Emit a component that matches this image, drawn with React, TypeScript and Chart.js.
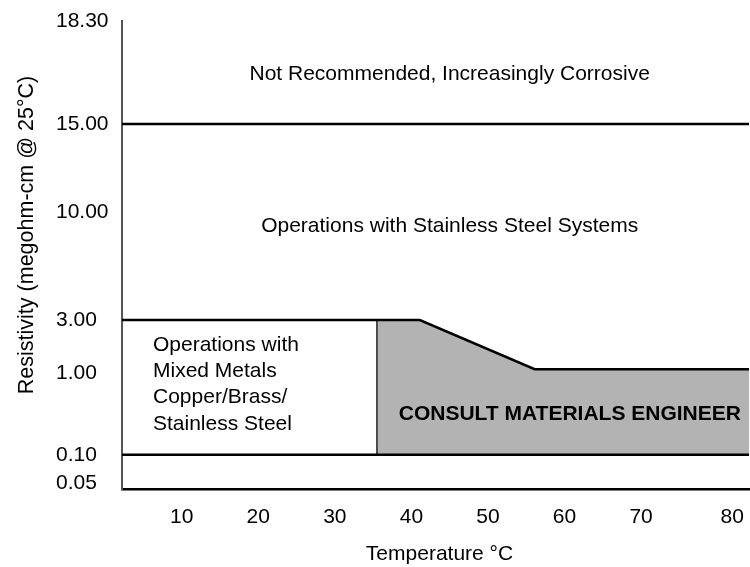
import React, { useEffect, useRef } from 'react';
import { Chart, registerables } from 'chart.js';

Chart.register(...registerables);

const FONT = "'Liberation Sans', Arial, Helvetica, sans-serif";

// ---- Axis ticks (schematic, non-uniform resistivity axis) ----
const yTickLabels = ['0.05', '0.10', '1.00', '3.00', '10.00', '15.00', '18.30'];
const yTickLevels = [1.3, 7.3, 24.8, 36.1, 59.2, 78.0, 100];
const xTickLabels = ['10', '20', '30', '40', '50', '60', '70', '80'];
const xTickTemps = [10, 20, 30, 40, 50, 60, 70, 81.9];

const tempRange = [2.2, 84.1];
const levelRange = [0, 100];

// ---- Region boundaries (levels on the schematic axis) ----
const corrosiveBoundary = 78.0; // 15.00
const stainlessBoundary = 36.1; // 3.00
const minimumBoundary = 7.3; // 0.10

// ---- Consult Materials Engineer zone outline ----
const consultTemps = [35.5, 41.1, 56.1, 84.1];
const consultLevels = [36.1, 36.1, 25.6, 25.6];

// ---- Text ----
const topNote = 'Not Recommended, Increasingly Corrosive';
const stainlessNote = 'Operations with Stainless Steel Systems';
const mixedMetalsNote = ['Operations with', 'Mixed Metals', 'Copper/Brass/', 'Stainless Steel'];
const consultNote = 'CONSULT MATERIALS ENGINEER';
const xTitle = 'Temperature °C';
const yTitle = 'Resistivity (megohm-cm @ 25°C)';

const textPlugin = {
  id: 'regionText',
  afterDatasetsDraw(chart: any) {
    const { ctx, scales, chartArea } = chart;
    const x = scales.x;
    const y = scales.y;
    ctx.save();
    ctx.fillStyle = '#000';
    ctx.textBaseline = 'middle';
    ctx.font = `21px ${FONT}`;
    ctx.textAlign = 'center';
    ctx.fillText(topNote, x.getPixelForValue(45.0), y.getPixelForValue(88.6));
    ctx.fillText(stainlessNote, x.getPixelForValue(45.0), y.getPixelForValue(56.2));

    ctx.textAlign = 'left';
    const lx = x.getPixelForValue(6.25);
    const ly = y.getPixelForValue(30.8);
    mixedMetalsNote.forEach((line, i) => ctx.fillText(line, lx, ly + i * 26.3));

    ctx.textAlign = 'center';
    ctx.font = `bold 21px ${FONT}`;
    ctx.fillText(consultNote, x.getPixelForValue(60.7), y.getPixelForValue(16.0));

    ctx.font = `21px ${FONT}`;
    ctx.fillText(xTitle, (chartArea.left + chartArea.right) / 2 + 4, 554);

    ctx.font = `21.5px ${FONT}`;
    ctx.translate(27, 235);
    ctx.rotate(-Math.PI / 2);
    ctx.fillText(yTitle, 0, 0);
    ctx.restore();
  },
};

function line(points: { x: number; y: number }[], width = 2.5, color = '#000', order = 0) {
  return {
    data: points,
    showLine: true,
    pointRadius: 0,
    borderColor: color,
    borderWidth: width,
    borderCapStyle: 'butt',
    fill: false,
    order,
  };
}

export default function App() {
  const canvasRef = useRef<HTMLCanvasElement>(null);

  useEffect(() => {
    if (!canvasRef.current) return;
    const [tMin, tMax] = tempRange;
    const consultPoints = consultTemps.map((t, i) => ({ x: t, y: consultLevels[i] }));

    const chart = new Chart(canvasRef.current, {
      type: 'scatter',
      data: {
        datasets: [
          line([{ x: tMin, y: corrosiveBoundary }, { x: tMax, y: corrosiveBoundary }]) as any,
          line([{ x: tMin, y: stainlessBoundary }, ...consultPoints]) as any,
          line([{ x: tMin, y: minimumBoundary }, { x: tMax, y: minimumBoundary }]) as any,
          line([{ x: consultTemps[0], y: minimumBoundary }, { x: consultTemps[0], y: consultLevels[0] }], 1.5, '#222', 1) as any,
          {
            data: consultPoints,
            showLine: true,
            pointRadius: 0,
            borderWidth: 0,
            borderColor: 'rgba(0,0,0,0)',
            backgroundColor: '#b3b3b3',
            fill: { value: minimumBoundary },
            order: 10,
          } as any,
        ],
      },
      options: {
        animation: false,
        responsive: false,
        layout: { padding: { left: 56, top: 21, right: 1, bottom: 0 } },
        plugins: {
          legend: { display: false },
          tooltip: { enabled: false },
        },
        scales: {
          x: {
            type: 'linear',
            min: tMin,
            max: tMax,
            afterFit: (s: any) => {
              s.height = 78;
              s.paddingLeft = 0;
              s.paddingRight = 0;
            },
            afterBuildTicks: (s: any) => {
              s.ticks = xTickTemps.map((v) => ({ value: v }));
            },
            grid: { display: false, drawTicks: false },
            border: { display: true, color: '#000', width: 2.5 },
            ticks: {
              autoSkip: false,
              maxRotation: 0,
              padding: 16,
              color: '#000',
              font: { family: FONT, size: 21 },
              callback: (_v: any, i: number) => xTickLabels[i],
            },
          },
          y: {
            type: 'linear',
            min: levelRange[0],
            max: levelRange[1],
            afterFit: (s: any) => {
              s.width = 66;
              s.paddingTop = 0;
              s.paddingBottom = 0;
            },
            afterBuildTicks: (s: any) => {
              s.ticks = yTickLevels.map((v) => ({ value: v }));
            },
            grid: { display: false, drawTicks: false },
            border: { display: true, color: '#555', width: 2 },
            ticks: {
              autoSkip: false,
              crossAlign: 'far',
              color: '#000',
              font: { family: FONT, size: 21 },
              callback: (_v: any, i: number) => yTickLabels[i],
            },
          },
        },
      },
      plugins: [textPlugin],
    });
    return () => chart.destroy();
  }, []);

  return (
    <div style={{ position: 'fixed', left: 0, top: 0, width: 750, height: 567, background: '#fff' }}>
      <canvas ref={canvasRef} width={750} height={567} />
    </div>
  );
}
